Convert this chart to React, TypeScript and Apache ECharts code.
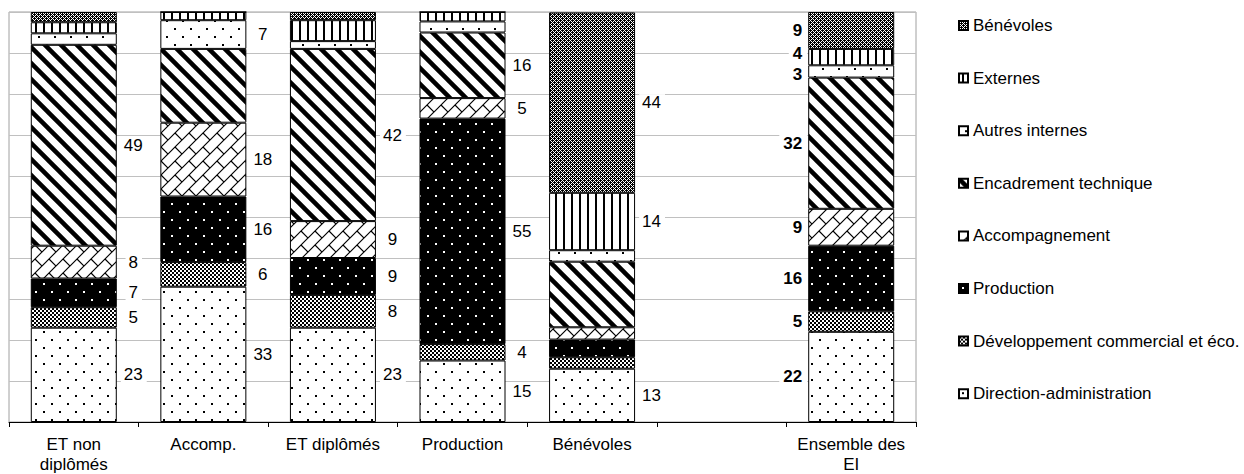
import React, { useEffect, useRef } from "react";
import * as echarts from "echarts";

const categories = ["ET non\ndiplômés", "Accomp.", "ET diplômés", "Production", "Bénévoles", "", "Ensemble des\nEI"];

const seriesNames = [
  "Direction-administration",
  "Développement commercial et éco.",
  "Production",
  "Accompagnement",
  "Encadrement technique",
  "Autres internes",
  "Externes",
  "Bénévoles",
];

const directionValues = [23, 33, 23, 15, 13, null, 22];
const devValues = [5, 6, 8, 4, 2.8, null, 5];
const productionValues = [7, 16, 9, 55, 4.3, null, 16];
const accompValues = [8, 18, 9, 5, 3, null, 9];
const encadrementValues = [49, 18, 42, 16, 16, null, 32];
const autresValues = [2.8, 7, 1.9, 2.7, 2.8, null, 3];
const externesValues = [2.7, 2, 5.1, 2.3, 14, null, 4];
const benevolesValues = [2.5, 0, 2, 0, 44, null, 9];

const directionLabels = [1, 1, 1, 1, 1, 0, 1];
const devLabels = [1, 1, 1, 1, 0, 0, 1];
const productionLabels = [1, 1, 1, 1, 0, 0, 1];
const accompLabels = [1, 1, 1, 1, 0, 0, 1];
const encadrementLabels = [1, 0, 1, 1, 0, 0, 1];
const autresLabels = [0, 1, 0, 0, 0, 0, 1];
const externesLabels = [0, 0, 0, 0, 1, 0, 1];
const benevolesLabels = [0, 0, 0, 0, 1, 0, 1];

// vertical nudge (px) of the "Ensemble des EI" labels, per series, to keep them apart
const ensembleLabelNudge = [0, 0, 0, 0, 0, 3, -4, 0];

const allValues = [directionValues, devValues, productionValues, accompValues, encadrementValues, autresValues, externesValues, benevolesValues];
const allLabels = [directionLabels, devLabels, productionLabels, accompLabels, encadrementLabels, autresLabels, externesLabels, benevolesLabels];

const FONT = "'Liberation Sans', Arial, sans-serif";

function tile(w: number, h: number, draw: (ctx: CanvasRenderingContext2D) => void) {
  const c = document.createElement("canvas");
  c.width = w;
  c.height = h;
  const ctx = c.getContext("2d") as CanvasRenderingContext2D;
  draw(ctx);
  return { image: c, repeat: "repeat", imageWidth: w, imageHeight: h } as any;
}

function makePatterns() {
  const direction = tile(16, 16, (ctx) => {
    ctx.fillStyle = "#fff"; ctx.fillRect(0, 0, 16, 16);
    ctx.fillStyle = "#000"; ctx.fillRect(3, 3, 2, 2); ctx.fillRect(11, 11, 2, 2);
  });
  const dev = tile(4, 4, (ctx) => {
    ctx.fillStyle = "#fff"; ctx.fillRect(0, 0, 4, 4);
    ctx.fillStyle = "#000"; ctx.fillRect(0, 0, 2, 2); ctx.fillRect(2, 2, 2, 2);
  });
  const production = tile(16, 16, (ctx) => {
    ctx.fillStyle = "#000"; ctx.fillRect(0, 0, 16, 16);
    ctx.fillStyle = "#fff"; ctx.fillRect(3, 3, 2, 2); ctx.fillRect(11, 11, 2, 2);
  });
  const accomp = tile(14, 14, (ctx) => {
    ctx.fillStyle = "#fff"; ctx.fillRect(0, 0, 14, 14);
    ctx.strokeStyle = "#000"; ctx.lineWidth = 1.2;
    ctx.beginPath();
    ctx.moveTo(-2, 16); ctx.lineTo(16, -2);
    ctx.moveTo(-2, 2); ctx.lineTo(2, -2);
    ctx.moveTo(12, 16); ctx.lineTo(16, 12);
    ctx.moveTo(7, 7); ctx.lineTo(14.5, 14.5);
    ctx.stroke();
  });
  const encadrement = tile(16, 16, (ctx) => {
    ctx.fillStyle = "#fff"; ctx.fillRect(0, 0, 16, 16);
    ctx.strokeStyle = "#000"; ctx.lineWidth = 4.5;
    ctx.beginPath();
    ctx.moveTo(-3, -3); ctx.lineTo(19, 19);
    ctx.moveTo(13, -3); ctx.lineTo(19, 3);
    ctx.moveTo(-3, 13); ctx.lineTo(3, 19);
    ctx.stroke();
  });
  const autres = tile(16, 16, (ctx) => {
    ctx.fillStyle = "#fff"; ctx.fillRect(0, 0, 16, 16);
    ctx.fillStyle = "#000"; ctx.fillRect(6, 4, 2, 2); ctx.fillRect(14, 12, 2, 2);
  });
  const externes = tile(8, 8, (ctx) => {
    ctx.fillStyle = "#fff"; ctx.fillRect(0, 0, 8, 8);
    ctx.fillStyle = "#000"; ctx.fillRect(3, 0, 2, 8);
  });
  const benevoles = tile(4, 4, (ctx) => {
    ctx.fillStyle = "#000"; ctx.fillRect(0, 0, 4, 4);
    ctx.fillStyle = "#fff";
    ctx.fillRect(2, 0, 1, 1); ctx.fillRect(1, 1, 1, 1); ctx.fillRect(3, 1, 1, 1);
    ctx.fillRect(0, 2, 1, 1); ctx.fillRect(1, 3, 1, 1); ctx.fillRect(3, 3, 1, 1);
  });
  return [direction, dev, production, accomp, encadrement, autres, externes, benevoles];
}

export default function App() {
  const ref = useRef<HTMLDivElement>(null);

  useEffect(() => {
    if (!ref.current) return;
    const chart = echarts.init(ref.current, null, { renderer: "svg" });
    const patterns = makePatterns();
    const lastIndex = categories.length - 1;

    const series = seriesNames.map((name, si) => ({
      name,
      type: "bar",
      stack: "total",
      barWidth: 86,
      emphasis: { disabled: true },
      itemStyle: { color: patterns[si], borderColor: "#000", borderWidth: 1 },
      label: {
        show: false,
        position: "right",
        distance: 17,
        align: "center",
        verticalAlign: "middle",
        color: "#000",
        fontSize: 17,
        fontFamily: FONT,
        backgroundColor: "#fff",
        padding: [0, 4, 0, 3],
        formatter: (p: any) => String(Math.round(p.value)),
      },
      data: allValues[si].map((v, ci) => {
        const show = allLabels[si][ci] === 1;
        if (ci === lastIndex) {
          return {
            value: v,
            label: {
              show,
              position: "left",
              distance: 1,
              align: "right",
              fontWeight: "bold",
              padding: [0, 5, 0, 4],
              offset: [0, ensembleLabelNudge[si]],
            },
          };
        }
        return { value: v, label: { show } };
      }),
    }));

    chart.setOption({
      animation: false,
      backgroundColor: "#fff",
      textStyle: { fontFamily: FONT },
      grid: {
        left: 9,
        top: 12,
        right: 328,
        bottom: 52,
        show: true,
        borderColor: "#a0a0a0",
        borderWidth: 1,
        containLabel: false,
      },
      legend: {
        orient: "vertical",
        left: 958,
        top: 17,
        padding: 0,
        itemWidth: 9,
        itemHeight: 9,
        itemGap: 35.6,
        icon: "rect",
        selectedMode: false,
        data: seriesNames.slice().reverse(),
        textStyle: { fontSize: 17, lineHeight: 16, color: "#000", fontFamily: FONT },
      },
      xAxis: {
        type: "category",
        data: categories,
        axisLine: { lineStyle: { color: "#000", width: 1 } },
        axisTick: { show: true, length: 5, lineStyle: { color: "#000" } },
        axisLabel: { interval: 0, fontSize: 17, lineHeight: 20, margin: 12, color: "#000", fontFamily: FONT },
      },
      yAxis: {
        type: "value",
        min: 0,
        max: 100,
        interval: 10,
        axisLabel: { show: false },
        axisTick: { show: false },
        axisLine: { show: false },
        splitLine: { lineStyle: { color: "#c0c0c0", width: 1 } },
      },
      series,
    });

    return () => chart.dispose();
  }, []);

  return (
    <div
      ref={ref}
      style={{ position: "fixed", left: 0, top: 0, width: 1244, height: 474, background: "#fff" }}
    />
  );
}
